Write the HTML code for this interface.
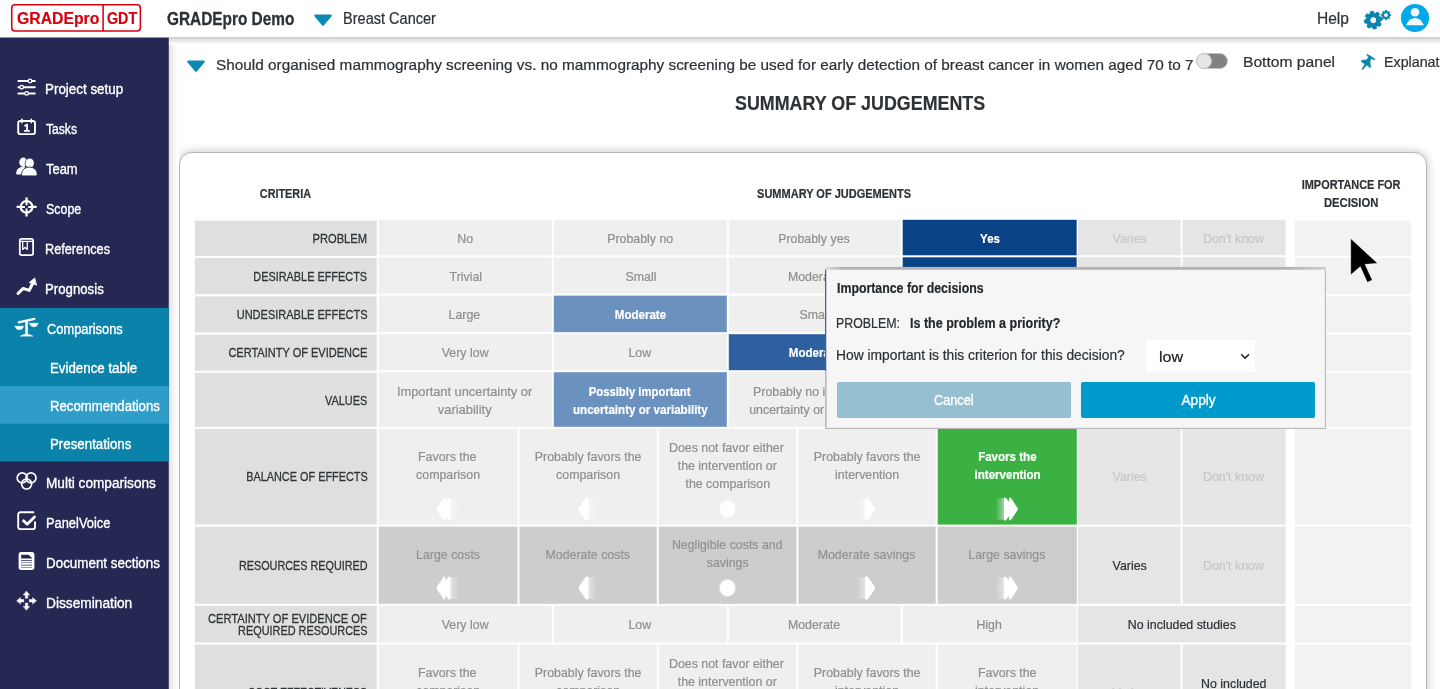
<!DOCTYPE html>
<html>
<head>
<meta charset="utf-8">
<title>GRADEpro GDT</title>
<style>
*{box-sizing:border-box;margin:0;padding:0}
html,body{width:1440px;height:689px;overflow:hidden;background:#fff}
body{font-family:"Liberation Sans",sans-serif;color:#2d3236;position:relative}
#root{position:absolute;left:0;top:0;width:1440px;height:689px;overflow:hidden;will-change:transform}
.t{position:absolute;white-space:nowrap;line-height:20px;height:20px;display:block}
.a{position:absolute}
.c{position:absolute;background:#efefef}
svg{position:absolute;overflow:visible}
</style>
</head>
<body>
<div id="root">
<svg width="170" height="689" style="left:0;top:0" viewBox="0 0 170 689"><rect x="0" y="37.500" width="168.800" height="652" fill="#242852"/><rect x="0" y="307.900" width="168.800" height="153.600" fill="#0a82a9"/><rect x="0" y="386.200" width="168.800" height="37.600" fill="#2e9dc7"/></svg>
<span class="t" style="left:45.44px;top:79px;font-size:14px;color:#fff;transform:scaleX(0.9565);transform-origin:0 50%;-webkit-text-stroke:.35px #fff;">Project setup</span>
<span class="t" style="left:46.40px;top:119px;font-size:14px;color:#fff;transform:scaleX(0.8663);transform-origin:0 50%;-webkit-text-stroke:.35px #fff;">Tasks</span>
<span class="t" style="left:46.40px;top:159px;font-size:14px;color:#fff;transform:scaleX(0.9234);transform-origin:0 50%;-webkit-text-stroke:.35px #fff;">Team</span>
<span class="t" style="left:46.40px;top:199px;font-size:14px;color:#fff;transform:scaleX(0.8870);transform-origin:0 50%;-webkit-text-stroke:.35px #fff;">Scope</span>
<span class="t" style="left:45.49px;top:239px;font-size:14px;color:#fff;transform:scaleX(0.9080);transform-origin:0 50%;-webkit-text-stroke:.35px #fff;">References</span>
<span class="t" style="left:45.46px;top:279px;font-size:14px;color:#fff;transform:scaleX(0.9436);transform-origin:0 50%;-webkit-text-stroke:.35px #fff;">Prognosis</span>
<span class="t" style="left:46.50px;top:319px;font-size:14px;color:#fff;transform:scaleX(0.9191);transform-origin:0 50%;-webkit-text-stroke:.35px #fff;">Comparisons</span>
<span class="t" style="left:49.55px;top:358px;font-size:14px;color:#fff;transform:scaleX(0.9500);transform-origin:0 50%;-webkit-text-stroke:.35px #fff;">Evidence table</span>
<span class="t" style="left:49.56px;top:396px;font-size:14px;color:#fff;transform:scaleX(0.9410);transform-origin:0 50%;-webkit-text-stroke:.35px #fff;">Recommendations</span>
<span class="t" style="left:49.55px;top:434px;font-size:14px;color:#fff;transform:scaleX(0.9503);transform-origin:0 50%;-webkit-text-stroke:.35px #fff;">Presentations</span>
<span class="t" style="left:45.53px;top:473px;font-size:14px;color:#fff;transform:scaleX(0.9739);transform-origin:0 50%;-webkit-text-stroke:.35px #fff;">Multi comparisons</span>
<span class="t" style="left:45.58px;top:513px;font-size:14px;color:#fff;transform:scaleX(0.9182);transform-origin:0 50%;-webkit-text-stroke:.35px #fff;">PanelVoice</span>
<span class="t" style="left:45.54px;top:553px;font-size:14px;color:#fff;transform:scaleX(0.9572);transform-origin:0 50%;-webkit-text-stroke:.35px #fff;">Document sections</span>
<span class="t" style="left:45.52px;top:593px;font-size:14px;color:#fff;transform:scaleX(0.9810);transform-origin:0 50%;-webkit-text-stroke:.35px #fff;">Dissemination</span>

<svg width="40" height="640" style="left:0;top:60px" viewBox="0 60 40 640" fill="none" stroke="#fff" stroke-linecap="round" stroke-linejoin="round">
 <!-- sliders -->
 <g stroke-width="2">
  <path d="M18.400 81H34.800 M18.400 87.200H34.800 M18.400 93.400H34.800"/>
  <circle cx="30.100" cy="81" r="1.800" fill="#242852" stroke-width="1.300"/>
  <circle cx="21.700" cy="87.200" r="1.800" fill="#242852" stroke-width="1.300"/>
  <circle cx="26.600" cy="93.400" r="1.800" fill="#242852" stroke-width="1.300"/>
 </g>
 <!-- calendar -->
 <g stroke-width="1.900">
  <rect x="18.200" y="121" width="16.800" height="13.100" rx="2.200"/>
  <path d="M21.900 119.300v3.200 M31.300 119.300v3.200" stroke-width="1.700"/>
  <path d="M25 125.800l2-1.300v6.200 M24.700 130.900h4.400" stroke-width="1.800"/>
 </g>
 <!-- team -->
 <g fill="#fff" stroke="none">
  <ellipse cx="23.300" cy="162.300" rx="4" ry="4.700"/>
  <path d="M16.200 173.400c0-3.900 2.800-6.400 6.400-6.400 1.500 0 2.800.400 3.800 1.100-2.700 1.400-4.300 3.500-4.700 6.500h-4.300c-.800 0-1.200-.500-1.200-1.200z"/>
  <ellipse cx="29.700" cy="163.200" rx="4.900" ry="5.400" fill="#242852"/>
  <ellipse cx="29.700" cy="163.200" rx="4.200" ry="4.800"/>
  <path d="M21.500 174.600c0-4.600 3.600-7.500 7.900-7.500s7.800 2.900 7.800 7.500c0 .800-.500 1.300-1.300 1.300H22.800c-.800 0-1.300-.500-1.300-1.300z" stroke="#242852" stroke-width=".900"/>
 </g>
 <!-- scope -->
 <g stroke-width="2.300" stroke-linecap="butt">
  <circle cx="26.550" cy="206.900" r="5.800"/>
  <path d="M26.550 197.500v3.600 M26.550 212.700v3.700 M16.600 206.900h4.200 M32.300 206.900h4.300" stroke-linecap="butt"/>
  <path d="M26.550 201.500v3.700 M26.550 208.600v3.700 M21.200 206.900h3.700 M28.200 206.900h3.700" stroke-width="2"/>
 </g>
 <!-- references -->
 <g stroke-width="1.800">
  <rect x="19.800" y="238.900" width="13.300" height="16.200" rx="1.900"/>
  <path d="M20.600 241.400H32.600" stroke-width="1.100"/>
  <path d="M22.700 241.600v7.800l2.300-2 2.300 2v-7.800" stroke-width="1.300"/>
 </g>
 <!-- prognosis -->
 <g>
  <path d="M18 293.500l5.200-5.100 6 2 3.200-6.400" stroke-width="3"/>
  <path d="M34.500 278.200L29.200 282.500L36.300 285.100Z" fill="#fff" stroke-width=".800"/>
 </g>
 <!-- comparisons (scale) -->
 <g>
  <path d="M18.700 322.300L34.400 318.900" stroke-width="2.200"/>
  <path d="M26.550 320.200V334" stroke-width="2.600" stroke-linecap="butt"/>
  <path d="M20.600 336Q26.500 332.300 32.600 336Z" fill="#fff" stroke-width=".600"/>
  <path d="M15.100 326.200H23.600Q22.700 329.700 19.350 329.700Q16 329.700 15.100 326.200Z" fill="#fff" stroke-width=".500"/>
  <path d="M29.500 323.300H38.200Q37.300 326.800 33.850 326.800Q30.400 326.800 29.500 323.300Z" fill="#fff" stroke-width=".500"/>
 </g>
 <!-- multi comparisons -->
 <g stroke-width="1.700">
  <circle cx="22.200" cy="477.900" r="5"/>
  <circle cx="31" cy="477.900" r="5"/>
  <circle cx="26.600" cy="484" r="5"/>
 </g>
 <!-- panelvoice -->
 <g stroke-width="1.900">
  <path d="M33.400 512.300H20.400a2.200 2.200 0 0 0-2.200 2.200v12.400a2.200 2.200 0 0 0 2.200 2.200h12.400a2.200 2.200 0 0 0 2.200-2.200v-4.800"/>
  <path d="M23.500 520.800l3.700 3.500 7.300-7.200" stroke-width="2.800"/>
 </g>
 <!-- document -->
 <g stroke="none">
  <rect x="18.600" y="552.100" width="15.800" height="17.800" rx="2.600" fill="#fff"/>
  <path d="M21.200 554.700H28.400L31.900 557.700V567.400H21.200Z" fill="#242852"/>
  <path d="M21.200 558.500h10.700v1.600H21.200z M21.200 560.800h10.700v1.600H21.200z M21.200 563.100h10.700v1.600H21.200z M21.200 565.400h10.700v1.500H21.200z" fill="#fff"/>
 </g>
 <!-- dissemination -->
 <g fill="#fff" stroke="#fff" stroke-width=".500" stroke-linejoin="round">
  <path d="M26.550 591.300l3.100 3.700h-1.900v3.300h-2.400v-3.300h-1.900z"/>
  <path d="M26.550 610.100l3.100-3.700h-1.900v-3.300h-2.400v3.300h-1.900z"/>
  <path d="M16.800 600.700l3.700-3.100v1.900h3.300v2.400h-3.300v1.900z"/>
  <path d="M36.300 600.700l-3.700-3.100v1.900h-3.300v2.400h3.300v1.900z"/>
 </g>
</svg>

<div class="a" style="left:169px;top:38px;width:10px;height:651px;z-index:3;background:linear-gradient(to right,#e5dddd 0,#ecE8e8 18%,#f5f3f3 45%,#fcfcfc 75%,#fff 100%)"></div>
<svg width="18" height="12" style="left:187px;top:59.500px" viewBox="0 0 18 12"><path d="M1.200 0.600h15.600a1 1 0 0 1 .8 1.600l-7.600 9a1.300 1.300 0 0 1-2 0l-7.600-9a1 1 0 0 1 .8-1.600z" fill="#0b88b3"/></svg>
<span class="t" style="left:216.30px;top:55px;font-size:14.8px;color:#2d3236;transform:scaleX(1.0362);transform-origin:0 50%;-webkit-text-stroke:.22px #2d3236;">Should organised mammography screening vs. no mammography screening be used for early detection of breast cancer in women aged 70 to 7</span>
<div class="a" style="left:1196px;top:53px;width:32px;height:16px;border-radius:8px;background:#818181;border:1px solid #c4c4c4"></div>
<div class="a" style="left:1196px;top:53px;width:16px;height:16px;border-radius:8px;background:#e6e6e6;border:1px solid #c2c2c2"></div>
<span class="t" style="left:1242.86px;top:52px;font-size:15px;color:#2d3236;transform:scaleX(1.0419);transform-origin:0 50%;-webkit-text-stroke:.22px #2d3236;">Bottom panel</span>
<svg width="16" height="18" style="left:1360px;top:53px" viewBox="1360 53 16 18"><path d="M1367 54.100L1374.900 58.800L1374.500 60L1371.300 58.600L1370 61.400L1370.700 67.500L1369 67.100L1366.600 65.100L1362.500 70L1361.900 69.100L1364.800 64.100L1361.100 61.400L1361.900 60.200L1366.800 59.800L1368.600 56.700L1366.800 55.300Z" fill="#0c84ac" stroke="#0c84ac" stroke-width=".500" stroke-linejoin="round"/></svg>
<span class="t" style="left:1383.55px;top:52px;font-size:15px;color:#2d3236;transform:scaleX(0.9501);transform-origin:0 50%;-webkit-text-stroke:.22px #2d3236;">Explanat</span>
<span class="t" style="left:735.00px;top:93px;font-size:21px;font-weight:bold;color:#2d3236;transform:scaleX(0.8509);transform-origin:0 50%;-webkit-text-stroke:.2px #2d3236;">SUMMARY OF JUDGEMENTS</span>
<div class="a" style="left:179px;top:152px;width:1248px;height:620px;border:1px solid #b9b9b9;border-radius:13px;background:#fff;box-shadow:0 0 9px 1px rgba(0,0,0,.21)"></div>
<svg width="1440" height="689" style="left:0;top:0" viewBox="0 0 1440 689"><rect x="194.90" y="220.70" width="181.80" height="35.20" fill="#dfdfdf"/><rect x="378.70" y="219.80" width="173.05" height="35.50" fill="#efefef"/><rect x="553.75" y="219.80" width="173.05" height="35.50" fill="#efefef"/><rect x="728.80" y="219.80" width="171.50" height="35.50" fill="#efefef"/><rect x="902.70" y="219.80" width="173.95" height="35.50" fill="#0a4385"/><rect x="1078.00" y="219.80" width="102.60" height="35.50" fill="#e5e5e5"/><rect x="1182.60" y="219.80" width="103.00" height="35.50" fill="#e5e5e5"/><rect x="1294.70" y="220.70" width="116.30" height="35.20" fill="#f2f2f2"/><rect x="194.90" y="257.90" width="181.80" height="36.30" fill="#dfdfdf"/><rect x="378.70" y="257.30" width="173.05" height="36.30" fill="#efefef"/><rect x="553.75" y="257.30" width="173.05" height="36.30" fill="#efefef"/><rect x="728.80" y="257.30" width="171.50" height="36.30" fill="#efefef"/><rect x="902.70" y="257.30" width="173.95" height="36.30" fill="#0a4385"/><rect x="1078.00" y="257.30" width="102.60" height="36.30" fill="#e5e5e5"/><rect x="1182.60" y="257.30" width="103.00" height="36.30" fill="#e5e5e5"/><rect x="1294.70" y="257.90" width="116.30" height="36.30" fill="#f2f2f2"/><rect x="194.90" y="296.40" width="181.80" height="36.10" fill="#dfdfdf"/><rect x="378.70" y="295.60" width="173.05" height="36.60" fill="#efefef"/><rect x="553.75" y="295.60" width="173.05" height="36.60" fill="#6b91bf"/><rect x="728.80" y="295.60" width="171.50" height="36.60" fill="#efefef"/><rect x="902.70" y="295.60" width="173.95" height="36.60" fill="#efefef"/><rect x="1078.00" y="295.60" width="102.60" height="36.60" fill="#e5e5e5"/><rect x="1182.60" y="295.60" width="103.00" height="36.60" fill="#e5e5e5"/><rect x="1294.70" y="296.40" width="116.30" height="36.10" fill="#f2f2f2"/><rect x="194.90" y="334.70" width="181.80" height="36.00" fill="#dfdfdf"/><rect x="378.70" y="334.20" width="173.05" height="36.00" fill="#efefef"/><rect x="553.75" y="334.20" width="173.05" height="36.00" fill="#efefef"/><rect x="728.80" y="334.20" width="171.50" height="36.00" fill="#2e60a0"/><rect x="902.70" y="334.20" width="173.95" height="36.00" fill="#efefef"/><rect x="1078.00" y="334.20" width="207.60" height="36.00" fill="#e5e5e5"/><rect x="1294.70" y="334.70" width="116.30" height="36.00" fill="#f2f2f2"/><rect x="194.90" y="372.70" width="181.80" height="54.10" fill="#dfdfdf"/><rect x="378.70" y="372.20" width="173.05" height="54.60" fill="#efefef"/><rect x="553.75" y="372.20" width="173.05" height="54.60" fill="#6b91bf"/><rect x="728.80" y="372.20" width="171.50" height="54.60" fill="#efefef"/><rect x="902.70" y="372.20" width="173.95" height="54.60" fill="#efefef"/><rect x="1078.00" y="372.20" width="102.60" height="54.60" fill="#e5e5e5"/><rect x="1182.60" y="372.20" width="103.00" height="54.60" fill="#e5e5e5"/><rect x="1294.70" y="372.70" width="116.30" height="54.10" fill="#f2f2f2"/><rect x="194.90" y="428.80" width="181.80" height="95.80" fill="#dfdfdf"/><rect x="378.70" y="428.80" width="138.80" height="95.80" fill="#efefef"/><rect x="519.50" y="428.80" width="137.30" height="95.80" fill="#efefef"/><rect x="658.80" y="428.80" width="137.60" height="95.80" fill="#efefef"/><rect x="798.40" y="428.80" width="137.30" height="95.80" fill="#efefef"/><rect x="937.70" y="428.80" width="139.10" height="95.80" fill="#3ab142"/><rect x="1078.00" y="428.80" width="102.60" height="95.80" fill="#e5e5e5"/><rect x="1182.60" y="428.80" width="103.00" height="95.80" fill="#e5e5e5"/><rect x="1294.70" y="428.80" width="116.30" height="95.80" fill="#f2f2f2"/><rect x="194.90" y="526.60" width="181.80" height="77.20" fill="#dfdfdf"/><rect x="378.70" y="526.60" width="138.80" height="77.20" fill="#cdcdcd"/><rect x="519.50" y="526.60" width="137.30" height="77.20" fill="#cdcdcd"/><rect x="658.80" y="526.60" width="137.60" height="77.20" fill="#cdcdcd"/><rect x="798.40" y="526.60" width="137.30" height="77.20" fill="#cdcdcd"/><rect x="937.70" y="526.60" width="139.10" height="77.20" fill="#cdcdcd"/><rect x="1078.00" y="526.60" width="102.60" height="77.20" fill="#e5e5e5"/><rect x="1182.60" y="526.60" width="103.00" height="77.20" fill="#e5e5e5"/><rect x="1294.70" y="526.60" width="116.30" height="77.20" fill="#f2f2f2"/><rect x="194.90" y="605.80" width="181.80" height="36.70" fill="#dfdfdf"/><rect x="378.70" y="605.80" width="173.05" height="36.70" fill="#efefef"/><rect x="553.75" y="605.80" width="173.05" height="36.70" fill="#efefef"/><rect x="728.80" y="605.80" width="171.50" height="36.70" fill="#efefef"/><rect x="902.70" y="605.80" width="173.95" height="36.70" fill="#efefef"/><rect x="1078.00" y="605.80" width="207.60" height="36.70" fill="#e5e5e5"/><rect x="1294.70" y="605.80" width="116.30" height="36.70" fill="#f2f2f2"/><rect x="194.90" y="644.50" width="181.80" height="96.50" fill="#dfdfdf"/><rect x="378.70" y="644.50" width="138.80" height="96.50" fill="#efefef"/><rect x="519.50" y="644.50" width="137.30" height="96.50" fill="#efefef"/><rect x="658.80" y="644.50" width="137.60" height="96.50" fill="#efefef"/><rect x="798.40" y="644.50" width="137.30" height="96.50" fill="#efefef"/><rect x="937.70" y="644.50" width="139.10" height="96.50" fill="#efefef"/><rect x="1078.00" y="644.50" width="102.60" height="96.50" fill="#e5e5e5"/><rect x="1182.60" y="644.50" width="103.00" height="96.50" fill="#e5e5e5"/><rect x="1294.70" y="644.50" width="116.30" height="96.50" fill="#f2f2f2"/></svg>
<span class="t" style="left:254.09px;top:184px;font-size:13.3px;font-weight:bold;color:#2d3236;transform:scaleX(0.8150);transform-origin:50% 50%;-webkit-text-stroke:.2px #2d3236;">CRITERIA</span>
<span class="t" style="left:740.74px;top:184px;font-size:13.3px;font-weight:bold;color:#2d3236;transform:scaleX(0.8272);transform-origin:50% 50%;-webkit-text-stroke:.2px #2d3236;">SUMMARY OF JUDGEMENTS</span>
<span class="t" style="left:1290.76px;top:175px;font-size:13.3px;font-weight:bold;color:#2d3236;transform:scaleX(0.8220);transform-origin:50% 50%;-webkit-text-stroke:.2px #2d3236;">IMPORTANCE FOR</span>
<span class="t" style="left:1319.12px;top:193px;font-size:13.3px;font-weight:bold;color:#2d3236;transform:scaleX(0.8481);transform-origin:50% 50%;-webkit-text-stroke:.2px #2d3236;">DECISION</span>
<span class="t" style="left:301.49px;top:229px;font-size:13.5px;color:#2f3437;transform:scaleX(0.8260);transform-origin:100% 50%;-webkit-text-stroke:.3px #2f3437;">PROBLEM</span>
<span class="t" style="left:456.62px;top:229px;font-size:12.8px;color:#8f8f8f;transform:scaleX(0.9670);transform-origin:50% 50%;-webkit-text-stroke:.22px #8f8f8f;">No</span>
<span class="t" style="left:605.70px;top:229px;font-size:12.8px;color:#8f8f8f;transform:scaleX(0.9670);transform-origin:50% 50%;-webkit-text-stroke:.22px #8f8f8f;">Probably no</span>
<span class="t" style="left:777.27px;top:229px;font-size:12.8px;color:#8f8f8f;transform:scaleX(0.9670);transform-origin:50% 50%;-webkit-text-stroke:.22px #8f8f8f;">Probably yes</span>
<span class="t" style="left:978.70px;top:229px;font-size:12.8px;font-weight:bold;color:#fff;transform:scaleX(0.9030);transform-origin:50% 50%;-webkit-text-stroke:.2px #fff;">Yes</span>
<span class="t" style="left:1111.83px;top:229px;font-size:12.8px;color:#c7c7c7;transform:scaleX(0.9670);transform-origin:50% 50%;-webkit-text-stroke:.22px #c7c7c7;">Varies</span><span class="t" style="left:1201.80px;top:229px;font-size:12.8px;color:#c7c7c7;transform:scaleX(0.9670);transform-origin:50% 50%;-webkit-text-stroke:.22px #c7c7c7;">Don&#x27;t know</span>
<span class="t" style="left:226.27px;top:267px;font-size:13.5px;color:#2f3437;transform:scaleX(0.8063);transform-origin:100% 50%;-webkit-text-stroke:.3px #2f3437;">DESIRABLE EFFECTS</span>
<span class="t" style="left:448.81px;top:267px;font-size:12.8px;color:#8f8f8f;transform:scaleX(0.9670);transform-origin:50% 50%;-webkit-text-stroke:.22px #8f8f8f;">Trivial</span>
<span class="t" style="left:624.68px;top:267px;font-size:12.8px;color:#8f8f8f;transform:scaleX(0.9670);transform-origin:50% 50%;-webkit-text-stroke:.22px #8f8f8f;">Small</span>
<span class="t" style="left:787.09px;top:267px;font-size:12.8px;color:#8f8f8f;transform:scaleX(0.9670);transform-origin:50% 50%;-webkit-text-stroke:.22px #8f8f8f;">Moderate</span>
<span class="t" style="left:972.30px;top:267px;font-size:12.8px;font-weight:bold;color:#fff;transform:scaleX(0.9030);transform-origin:50% 50%;-webkit-text-stroke:.2px #fff;">Large</span>
<span class="t" style="left:1111.83px;top:267px;font-size:12.8px;color:#c7c7c7;transform:scaleX(0.9670);transform-origin:50% 50%;-webkit-text-stroke:.22px #c7c7c7;">Varies</span><span class="t" style="left:1201.80px;top:267px;font-size:12.8px;color:#c7c7c7;transform:scaleX(0.9670);transform-origin:50% 50%;-webkit-text-stroke:.22px #c7c7c7;">Don&#x27;t know</span>
<span class="t" style="left:206.77px;top:305px;font-size:13.5px;color:#2f3437;transform:scaleX(0.8149);transform-origin:100% 50%;-webkit-text-stroke:.3px #2f3437;">UNDESIRABLE EFFECTS</span>
<span class="t" style="left:448.43px;top:305px;font-size:12.8px;color:#8f8f8f;transform:scaleX(0.9670);transform-origin:50% 50%;-webkit-text-stroke:.22px #8f8f8f;">Large</span>
<span class="t" style="left:611.88px;top:305px;font-size:12.8px;font-weight:bold;color:#fff;transform:scaleX(0.9030);transform-origin:50% 50%;-webkit-text-stroke:.2px #fff;">Moderate</span>
<span class="t" style="left:798.96px;top:305px;font-size:12.8px;color:#8f8f8f;transform:scaleX(0.9670);transform-origin:50% 50%;-webkit-text-stroke:.22px #8f8f8f;">Small</span>
<span class="t" style="left:973.26px;top:305px;font-size:12.8px;color:#8f8f8f;transform:scaleX(0.9670);transform-origin:50% 50%;-webkit-text-stroke:.22px #8f8f8f;">Trivial</span>
<span class="t" style="left:196.78px;top:343px;font-size:13.5px;color:#2f3437;transform:scaleX(0.8157);transform-origin:100% 50%;-webkit-text-stroke:.3px #2f3437;">CERTAINTY OF EVIDENCE</span>
<span class="t" style="left:440.68px;top:343px;font-size:12.8px;color:#8f8f8f;transform:scaleX(0.9670);transform-origin:50% 50%;-webkit-text-stroke:.22px #8f8f8f;">Very low</span>
<span class="t" style="left:627.69px;top:343px;font-size:12.8px;color:#8f8f8f;transform:scaleX(0.9670);transform-origin:50% 50%;-webkit-text-stroke:.22px #8f8f8f;">Low</span>
<span class="t" style="left:786.16px;top:343px;font-size:12.8px;font-weight:bold;color:#fff;transform:scaleX(0.9030);transform-origin:50% 50%;-webkit-text-stroke:.2px #fff;">Moderate</span>
<span class="t" style="left:315.03px;top:391px;font-size:13.5px;color:#2f3437;transform:scaleX(0.8093);transform-origin:100% 50%;-webkit-text-stroke:.3px #2f3437;">VALUES</span>
<span class="t" style="left:396.78px;top:382px;font-size:12.8px;color:#8f8f8f;transform:scaleX(1.0009);transform-origin:50% 50%;-webkit-text-stroke:.22px #8f8f8f;">Important uncertainty or</span><span class="t" style="left:438.25px;top:400px;font-size:12.8px;color:#8f8f8f;transform:scaleX(1.0104);transform-origin:50% 50%;-webkit-text-stroke:.22px #8f8f8f;">variability</span>
<span class="t" style="left:582.35px;top:382px;font-size:12.8px;font-weight:bold;color:#fff;transform:scaleX(0.8842);transform-origin:50% 50%;-webkit-text-stroke:.2px #fff;">Possibly important</span><span class="t" style="left:565.56px;top:400px;font-size:12.8px;font-weight:bold;color:#fff;transform:scaleX(0.9063);transform-origin:50% 50%;-webkit-text-stroke:.2px #fff;">uncertainty or variability</span>
<span class="t" style="left:751.25px;top:382px;font-size:12.8px;color:#8f8f8f;transform:scaleX(0.9670);transform-origin:50% 50%;-webkit-text-stroke:.22px #8f8f8f;">Probably no important</span><span class="t" style="left:747.05px;top:400px;font-size:12.8px;color:#8f8f8f;transform:scaleX(0.9670);transform-origin:50% 50%;-webkit-text-stroke:.22px #8f8f8f;">uncertainty or variability</span>
<span class="t" style="left:216.53px;top:467px;font-size:13.5px;color:#2f3437;transform:scaleX(0.8066);transform-origin:100% 50%;-webkit-text-stroke:.3px #2f3437;">BALANCE OF EFFECTS</span>
<span class="t" style="left:417.45px;top:447px;font-size:12.8px;color:#8f8f8f;transform:scaleX(0.9670);transform-origin:50% 50%;-webkit-text-stroke:.22px #8f8f8f;">Favors the</span><span class="t" style="left:415.08px;top:465px;font-size:12.8px;color:#8f8f8f;transform:scaleX(0.9670);transform-origin:50% 50%;-webkit-text-stroke:.22px #8f8f8f;">comparison</span>
<svg width="22.4" height="24" style="left:436.40px;top:496.5px" viewBox="0 0 22.4 24"><g transform=""><path d="M1.100 13.600Q-.100 12 1.100 10.400L7.200 1.300Q8.300 -.200 9.300 1.300L9.800 4.800L12.100 1.100Q13 0 13.900 .600L14.600 1.300V22.700L13.900 23.400Q13 24 12.100 22.900L9.800 19.200L9.300 22.700Q8.300 24.200 7.200 22.700Z" fill="#fff"/><rect x="14.600" y="1.300" width="2.200" height="21.400" fill="#fff" fill-opacity=".42"/><rect x="16.800" y="1.300" width="2" height="21.400" fill="#fff" fill-opacity=".27"/><rect x="18.800" y="1.300" width="1.800" height="21.400" fill="#fff" fill-opacity=".2"/><rect x="20.600" y="1.300" width="1.800" height="21.400" fill="#fff" fill-opacity=".07"/></g></svg>
<span class="t" style="left:532.60px;top:447px;font-size:12.8px;color:#8f8f8f;transform:scaleX(0.9670);transform-origin:50% 50%;-webkit-text-stroke:.22px #8f8f8f;">Probably favors the</span><span class="t" style="left:555.13px;top:465px;font-size:12.8px;color:#8f8f8f;transform:scaleX(0.9670);transform-origin:50% 50%;-webkit-text-stroke:.22px #8f8f8f;">comparison</span>
<svg width="18.7" height="24" style="left:578.30px;top:496.5px" viewBox="0 0 18.7 24"><g transform=""><path d="M1.100 13.600Q-.100 12 1.100 10.400L7.600 1.300Q8.700 -.200 9.700 .600L10.600 1.300V22.700L9.700 23.400Q8.700 24.200 7.600 22.700Z" fill="#fff"/><rect x="10.600" y="1.300" width="2.200" height="21.400" fill="#fff" fill-opacity=".42"/><rect x="12.800" y="1.300" width="2" height="21.400" fill="#fff" fill-opacity=".27"/><rect x="14.800" y="1.300" width="2" height="21.400" fill="#fff" fill-opacity=".2"/><rect x="16.800" y="1.300" width="1.900" height="21.400" fill="#fff" fill-opacity=".07"/></g></svg>
<span class="t" style="left:667.36px;top:438px;font-size:12.8px;color:#8f8f8f;transform:scaleX(0.9670);transform-origin:50% 50%;-webkit-text-stroke:.22px #8f8f8f;">Does not favor either</span><span class="t" style="left:676.02px;top:456px;font-size:12.8px;color:#8f8f8f;transform:scaleX(0.9670);transform-origin:50% 50%;-webkit-text-stroke:.22px #8f8f8f;">the intervention or</span><span class="t" style="left:683.91px;top:474px;font-size:12.8px;color:#8f8f8f;transform:scaleX(0.9670);transform-origin:50% 50%;-webkit-text-stroke:.22px #8f8f8f;">the comparison</span>
<div class="a" style="left:719.5999999999999px;top:500.7px;width:15px;height:16px;border-radius:50%;background:#fff;box-shadow:0 0 1.500px .500px rgba(255,255,255,.8)"></div>
<span class="t" style="left:811.50px;top:447px;font-size:12.8px;color:#8f8f8f;transform:scaleX(0.9670);transform-origin:50% 50%;-webkit-text-stroke:.22px #8f8f8f;">Probably favors the</span><span class="t" style="left:834.03px;top:465px;font-size:12.8px;color:#8f8f8f;transform:scaleX(0.9670);transform-origin:50% 50%;-webkit-text-stroke:.22px #8f8f8f;">intervention</span>
<svg width="18.7" height="24" style="left:857.20px;top:496.5px" viewBox="0 0 18.7 24"><g transform="translate(18.7 0) scale(-1 1)"><path d="M1.100 13.600Q-.100 12 1.100 10.400L7.600 1.300Q8.700 -.200 9.700 .600L10.600 1.300V22.700L9.700 23.400Q8.700 24.200 7.600 22.700Z" fill="#fff"/><rect x="10.600" y="1.300" width="2.200" height="21.400" fill="#fff" fill-opacity=".42"/><rect x="12.800" y="1.300" width="2" height="21.400" fill="#fff" fill-opacity=".27"/><rect x="14.800" y="1.300" width="2" height="21.400" fill="#fff" fill-opacity=".2"/><rect x="16.800" y="1.300" width="1.900" height="21.400" fill="#fff" fill-opacity=".07"/></g></svg>
<span class="t" style="left:974.95px;top:447px;font-size:12.8px;font-weight:bold;color:#fff;transform:scaleX(0.9030);transform-origin:50% 50%;-webkit-text-stroke:.2px #fff;">Favors the</span><span class="t" style="left:970.55px;top:465px;font-size:12.8px;font-weight:bold;color:#fff;transform:scaleX(0.9030);transform-origin:50% 50%;-webkit-text-stroke:.2px #fff;">intervention</span>
<svg width="22.4" height="24" style="left:995.55px;top:496.5px" viewBox="0 0 22.4 24"><g transform="translate(22.4 0) scale(-1 1)"><path d="M1.100 13.600Q-.100 12 1.100 10.400L7.200 1.300Q8.300 -.200 9.300 1.300L9.800 4.800L12.100 1.100Q13 0 13.900 .600L14.600 1.300V22.700L13.900 23.400Q13 24 12.100 22.900L9.800 19.200L9.300 22.700Q8.300 24.200 7.200 22.700Z" fill="#fff"/><rect x="14.600" y="1.300" width="2.200" height="21.400" fill="#fff" fill-opacity=".42"/><rect x="16.800" y="1.300" width="2" height="21.400" fill="#fff" fill-opacity=".27"/><rect x="18.800" y="1.300" width="1.800" height="21.400" fill="#fff" fill-opacity=".2"/><rect x="20.600" y="1.300" width="1.800" height="21.400" fill="#fff" fill-opacity=".07"/></g></svg>
<span class="t" style="left:1111.83px;top:467px;font-size:12.8px;color:#c7c7c7;transform:scaleX(0.9670);transform-origin:50% 50%;-webkit-text-stroke:.22px #c7c7c7;">Varies</span><span class="t" style="left:1201.80px;top:467px;font-size:12.8px;color:#c7c7c7;transform:scaleX(0.9670);transform-origin:50% 50%;-webkit-text-stroke:.22px #c7c7c7;">Don&#x27;t know</span>
<span class="t" style="left:206.58px;top:556px;font-size:13.5px;color:#2f3437;transform:scaleX(0.8011);transform-origin:100% 50%;-webkit-text-stroke:.3px #2f3437;">RESOURCES REQUIRED</span>
<span class="t" style="left:414.73px;top:545px;font-size:12.8px;color:#929292;transform:scaleX(0.9670);transform-origin:50% 50%;-webkit-text-stroke:.22px #929292;">Large costs</span>
<svg width="22.4" height="24" style="left:436.40px;top:575.5px" viewBox="0 0 22.4 24"><g transform=""><path d="M1.100 13.600Q-.100 12 1.100 10.400L7.200 1.300Q8.300 -.200 9.300 1.300L9.800 4.800L12.100 1.100Q13 0 13.900 .600L14.600 1.300V22.700L13.900 23.400Q13 24 12.100 22.900L9.800 19.200L9.300 22.700Q8.300 24.200 7.200 22.700Z" fill="#fff"/><rect x="14.600" y="1.300" width="2.200" height="21.400" fill="#fff" fill-opacity=".42"/><rect x="16.800" y="1.300" width="2" height="21.400" fill="#fff" fill-opacity=".27"/><rect x="18.800" y="1.300" width="1.800" height="21.400" fill="#fff" fill-opacity=".2"/><rect x="20.600" y="1.300" width="1.800" height="21.400" fill="#fff" fill-opacity=".07"/></g></svg>
<span class="t" style="left:544.12px;top:545px;font-size:12.8px;color:#929292;transform:scaleX(0.9670);transform-origin:50% 50%;-webkit-text-stroke:.22px #929292;">Moderate costs</span>
<svg width="18.7" height="24" style="left:578.30px;top:575.5px" viewBox="0 0 18.7 24"><g transform=""><path d="M1.100 13.600Q-.100 12 1.100 10.400L7.600 1.300Q8.700 -.200 9.700 .600L10.600 1.300V22.700L9.700 23.400Q8.700 24.200 7.600 22.700Z" fill="#fff"/><rect x="10.600" y="1.300" width="2.200" height="21.400" fill="#fff" fill-opacity=".42"/><rect x="12.800" y="1.300" width="2" height="21.400" fill="#fff" fill-opacity=".27"/><rect x="14.800" y="1.300" width="2" height="21.400" fill="#fff" fill-opacity=".2"/><rect x="16.800" y="1.300" width="1.900" height="21.400" fill="#fff" fill-opacity=".07"/></g></svg>
<span class="t" style="left:669.91px;top:535px;font-size:12.8px;color:#929292;transform:scaleX(0.9670);transform-origin:50% 50%;-webkit-text-stroke:.22px #929292;">Negligible costs and</span><span class="t" style="left:706.10px;top:553px;font-size:12.8px;color:#929292;transform:scaleX(0.9670);transform-origin:50% 50%;-webkit-text-stroke:.22px #929292;">savings</span>
<div class="a" style="left:719.5999999999999px;top:579.7px;width:15px;height:16px;border-radius:50%;background:#fff;box-shadow:0 0 1.500px .500px rgba(255,255,255,.8)"></div>
<span class="t" style="left:816.26px;top:545px;font-size:12.8px;color:#929292;transform:scaleX(0.9670);transform-origin:50% 50%;-webkit-text-stroke:.22px #929292;">Moderate savings</span>
<svg width="18.7" height="24" style="left:857.20px;top:575.5px" viewBox="0 0 18.7 24"><g transform="translate(18.7 0) scale(-1 1)"><path d="M1.100 13.600Q-.100 12 1.100 10.400L7.600 1.300Q8.700 -.200 9.700 .600L10.600 1.300V22.700L9.700 23.400Q8.700 24.200 7.600 22.700Z" fill="#fff"/><rect x="10.600" y="1.300" width="2.200" height="21.400" fill="#fff" fill-opacity=".42"/><rect x="12.800" y="1.300" width="2" height="21.400" fill="#fff" fill-opacity=".27"/><rect x="14.800" y="1.300" width="2" height="21.400" fill="#fff" fill-opacity=".2"/><rect x="16.800" y="1.300" width="1.900" height="21.400" fill="#fff" fill-opacity=".07"/></g></svg>
<span class="t" style="left:967.12px;top:545px;font-size:12.8px;color:#929292;transform:scaleX(0.9670);transform-origin:50% 50%;-webkit-text-stroke:.22px #929292;">Large savings</span>
<svg width="22.4" height="24" style="left:995.55px;top:575.5px" viewBox="0 0 22.4 24"><g transform="translate(22.4 0) scale(-1 1)"><path d="M1.100 13.600Q-.100 12 1.100 10.400L7.200 1.300Q8.300 -.200 9.300 1.300L9.800 4.800L12.100 1.100Q13 0 13.900 .600L14.600 1.300V22.700L13.900 23.400Q13 24 12.100 22.900L9.800 19.200L9.300 22.700Q8.300 24.200 7.200 22.700Z" fill="#fff"/><rect x="14.600" y="1.300" width="2.200" height="21.400" fill="#fff" fill-opacity=".42"/><rect x="16.800" y="1.300" width="2" height="21.400" fill="#fff" fill-opacity=".27"/><rect x="18.800" y="1.300" width="1.800" height="21.400" fill="#fff" fill-opacity=".2"/><rect x="20.600" y="1.300" width="1.800" height="21.400" fill="#fff" fill-opacity=".07"/></g></svg>
<span class="t" style="left:1111.83px;top:556px;font-size:12.8px;color:#2d3236;transform:scaleX(0.9670);transform-origin:50% 50%;-webkit-text-stroke:.22px #2d3236;">Varies</span><span class="t" style="left:1201.80px;top:556px;font-size:12.8px;color:#c7c7c7;transform:scaleX(0.9670);transform-origin:50% 50%;-webkit-text-stroke:.22px #c7c7c7;">Don&#x27;t know</span>
<span class="t" style="left:174.48px;top:609px;font-size:13.5px;color:#2f3437;transform:scaleX(0.8238);transform-origin:100% 50%;-webkit-text-stroke:.3px #2f3437;">CERTAINTY OF EVIDENCE OF</span><span class="t" style="left:206.78px;top:621px;font-size:13.5px;color:#2f3437;transform:scaleX(0.8062);transform-origin:100% 50%;-webkit-text-stroke:.3px #2f3437;">REQUIRED RESOURCES</span>
<span class="t" style="left:440.68px;top:615px;font-size:12.8px;color:#8f8f8f;transform:scaleX(0.9670);transform-origin:50% 50%;-webkit-text-stroke:.22px #8f8f8f;">Very low</span>
<span class="t" style="left:627.69px;top:615px;font-size:12.8px;color:#8f8f8f;transform:scaleX(0.9670);transform-origin:50% 50%;-webkit-text-stroke:.22px #8f8f8f;">Low</span>
<span class="t" style="left:787.09px;top:615px;font-size:12.8px;color:#8f8f8f;transform:scaleX(0.9670);transform-origin:50% 50%;-webkit-text-stroke:.22px #8f8f8f;">Moderate</span>
<span class="t" style="left:976.09px;top:615px;font-size:12.8px;color:#8f8f8f;transform:scaleX(0.9670);transform-origin:50% 50%;-webkit-text-stroke:.22px #8f8f8f;">High</span>
<span class="t" style="left:1125.67px;top:615px;font-size:12.8px;color:#2d3236;transform:scaleX(0.9670);transform-origin:50% 50%;-webkit-text-stroke:.22px #2d3236;">No included studies</span>
<span class="t" style="left:215.03px;top:683px;font-size:13.5px;color:#2f3437;transform:scaleX(0.7848);transform-origin:100% 50%;-webkit-text-stroke:.3px #2f3437;">COST EFFECTIVENESS</span>
<span class="t" style="left:417.45px;top:663px;font-size:12.8px;color:#8f8f8f;transform:scaleX(0.9670);transform-origin:50% 50%;-webkit-text-stroke:.22px #8f8f8f;">Favors the</span><span class="t" style="left:415.08px;top:681px;font-size:12.8px;color:#8f8f8f;transform:scaleX(0.9670);transform-origin:50% 50%;-webkit-text-stroke:.22px #8f8f8f;">comparison</span>
<span class="t" style="left:532.60px;top:663px;font-size:12.8px;color:#8f8f8f;transform:scaleX(0.9670);transform-origin:50% 50%;-webkit-text-stroke:.22px #8f8f8f;">Probably favors the</span><span class="t" style="left:555.13px;top:681px;font-size:12.8px;color:#8f8f8f;transform:scaleX(0.9670);transform-origin:50% 50%;-webkit-text-stroke:.22px #8f8f8f;">comparison</span>
<span class="t" style="left:667.36px;top:654px;font-size:12.8px;color:#8f8f8f;transform:scaleX(0.9670);transform-origin:50% 50%;-webkit-text-stroke:.22px #8f8f8f;">Does not favor either</span><span class="t" style="left:676.02px;top:672px;font-size:12.8px;color:#8f8f8f;transform:scaleX(0.9670);transform-origin:50% 50%;-webkit-text-stroke:.22px #8f8f8f;">the intervention or</span><span class="t" style="left:683.91px;top:690px;font-size:12.8px;color:#8f8f8f;transform:scaleX(0.9670);transform-origin:50% 50%;-webkit-text-stroke:.22px #8f8f8f;">the comparison</span>
<span class="t" style="left:811.50px;top:663px;font-size:12.8px;color:#8f8f8f;transform:scaleX(0.9670);transform-origin:50% 50%;-webkit-text-stroke:.22px #8f8f8f;">Probably favors the</span><span class="t" style="left:834.03px;top:681px;font-size:12.8px;color:#8f8f8f;transform:scaleX(0.9670);transform-origin:50% 50%;-webkit-text-stroke:.22px #8f8f8f;">intervention</span>
<span class="t" style="left:976.60px;top:663px;font-size:12.8px;color:#8f8f8f;transform:scaleX(0.9670);transform-origin:50% 50%;-webkit-text-stroke:.22px #8f8f8f;">Favors the</span><span class="t" style="left:974.23px;top:681px;font-size:12.8px;color:#8f8f8f;transform:scaleX(0.9670);transform-origin:50% 50%;-webkit-text-stroke:.22px #8f8f8f;">intervention</span>
<span class="t" style="left:1111.83px;top:683px;font-size:12.8px;color:#c7c7c7;transform:scaleX(0.9670);transform-origin:50% 50%;-webkit-text-stroke:.22px #c7c7c7;">Varies</span>
<span class="t" style="left:1199.88px;top:674px;font-size:12.8px;color:#2d3236;transform:scaleX(0.9670);transform-origin:50% 50%;-webkit-text-stroke:.22px #2d3236;">No included</span><span class="t" style="left:1214.02px;top:692px;font-size:12.8px;color:#2d3236;transform:scaleX(0.9670);transform-origin:50% 50%;-webkit-text-stroke:.22px #2d3236;">studies</span>
<svg width="520" height="180" style="left:820px;top:260px" viewBox="820 260 520 180"><defs><linearGradient id="pg" x1="0" x2="1" y1="0" y2="0"><stop offset="0" stop-color="#dedede"/><stop offset=".035" stop-color="#b3b3b3"/><stop offset=".93" stop-color="#b3b3b3"/><stop offset="1" stop-color="#d2d2d2"/></linearGradient></defs><rect x="825.200" y="267" width="500.700" height="161.800" fill="#f6f6f6"/><rect x="825.200" y="266.900" width="500.700" height="2.850" fill="url(#pg)"/><rect x="825.100" y="269.700" width="1.150" height="101.500" fill="#2a5595"/><rect x="825.200" y="371.200" width="1.400" height="57.600" fill="#b2b2b2"/><rect x="1324.800" y="269.700" width="1.100" height="159.100" fill="#bcbcbc"/><rect x="825.200" y="427.850" width="500.700" height="1.050" fill="#b4b4b4"/></svg>
<span class="t" style="left:837.30px;top:278px;font-size:14px;font-weight:bold;color:#25292c;transform:scaleX(0.8806);transform-origin:0 50%;-webkit-text-stroke:.2px #25292c;">Importance for decisions</span>
<span class="t" style="left:836.42px;top:313px;font-size:14px;color:#2d3236;transform:scaleX(0.8842);transform-origin:0 50%;-webkit-text-stroke:.22px #2d3236;">PROBLEM:</span>
<span class="t" style="left:909.50px;top:313px;font-size:14px;font-weight:bold;color:#25292c;transform:scaleX(0.8945);transform-origin:0 50%;-webkit-text-stroke:.2px #25292c;">Is the problem a priority?</span>
<span class="t" style="left:836.31px;top:345px;font-size:14px;color:#2d3236;transform:scaleX(0.9871);transform-origin:0 50%;-webkit-text-stroke:.22px #2d3236;">How important is this criterion for this decision?</span>
<div class="a" style="left:1146px;top:340px;width:109px;height:32px;background:#fff"></div>
<span class="t" style="left:1158.57px;top:347px;font-size:15.5px;color:#1d1d1d;transform:scaleX(1.0319);transform-origin:0 50%;-webkit-text-stroke:.22px #1d1d1d;">low</span>
<svg width="10" height="7" style="left:1240px;top:353px" viewBox="0 0 10 7"><path d="M1.200 1.200l3.900 3.900 3.900-3.900" fill="none" stroke="#222" stroke-width="1.500"/></svg>
<div class="a" style="left:837px;top:382px;width:234px;height:36px;background:#96c0cf;border-radius:2px"></div>
<span class="t" style="left:932.26px;top:390px;font-size:14px;color:#fff;transform:scaleX(0.9087);transform-origin:50% 50%;-webkit-text-stroke:.35px #fff;">Cancel</span>
<div class="a" style="left:1081px;top:382px;width:234px;height:36px;background:#0099cc;border-radius:2px"></div>
<span class="t" style="left:1180.69px;top:390px;font-size:14px;color:#fff;transform:scaleX(0.9737);transform-origin:50% 50%;-webkit-text-stroke:.35px #fff;">Apply</span>
<svg width="32" height="48" style="left:1348px;top:236px;z-index:40" viewBox="1348 236 32 48"><path d="M1350.800 238.700L1350.800 274.800L1360.300 266.400L1367.400 282.300L1372.200 280.100L1364.900 264.300L1377.400 263.300Z" fill="#000" stroke="#fff" stroke-width=".300" stroke-linejoin="round"/></svg>
<div class="a" style="left:0;top:0;width:1440px;height:37px;background:#fff;z-index:30"></div>
<div class="a" style="left:169px;top:37px;width:1271px;height:8px;z-index:4;background:linear-gradient(to bottom,#c9c9c9 0,#d6d6d6 14%,#e2e2e2 35%,#f0f0f0 62%,#fafafa 85%,#fff 100%)"></div>
<div class="a" style="z-index:31;left:0;top:0">
<svg width="150" height="36" style="left:0;top:0" viewBox="0 0 150 36"><rect x="11.750" y="4.800" width="128.600" height="26.100" rx="3.200" fill="none" stroke="#d8000e" stroke-width="1.550"/><path d="M103.100 4.800V30.900" stroke="#d8000e" stroke-width="1.550"/></svg>
<span class="t" style="left:17.40px;top:8px;font-size:17.2px;font-weight:bold;color:#d7000f;transform:scaleX(0.9176);transform-origin:0 50%;-webkit-text-stroke:.2px #d7000f;">GRADEpro</span>
<span class="t" style="left:107.00px;top:8px;font-size:17.2px;font-weight:bold;color:#d7000f;transform:scaleX(0.8319);transform-origin:0 50%;-webkit-text-stroke:.2px #d7000f;">GDT</span>
<span class="t" style="left:167.00px;top:9px;font-size:17.6px;font-weight:bold;color:#2d3236;transform:scaleX(0.8739);transform-origin:0 50%;-webkit-text-stroke:.3px #2d3236;">GRADEpro Demo</span>
<svg width="18" height="12" style="left:314px;top:14px" viewBox="0 0 18 12"><path d="M1.200 0.600h15.600a1 1 0 0 1 .8 1.600l-7.600 9a1.300 1.300 0 0 1-2 0l-7.600-9a1 1 0 0 1 .8-1.600z" fill="#0b88b3"/></svg>
<span class="t" style="left:342.78px;top:9px;font-size:15.8px;color:#2d3236;transform:scaleX(0.9207);transform-origin:0 50%;-webkit-text-stroke:.22px #2d3236;">Breast Cancer</span>
<span class="t" style="left:1316.82px;top:9px;font-size:15.8px;color:#2d3236;transform:scaleX(0.9841);transform-origin:0 50%;-webkit-text-stroke:.22px #2d3236;">Help</span>

<svg width="36" height="28" style="left:1362px;top:4px" viewBox="1362 4 36 28">
 <path d="M1379.63 17.04L1381.75 17.19L1382.25 20.10L1380.30 20.95L1379.96 22.47L1381.35 24.07L1379.65 26.48L1377.67 25.70L1376.36 26.53L1376.21 28.65L1373.30 29.15L1372.45 27.20L1370.93 26.86L1369.33 28.25L1366.92 26.55L1367.70 24.57L1366.87 23.26L1364.75 23.11L1364.25 20.20L1366.20 19.35L1366.54 17.83L1365.15 16.23L1366.85 13.82L1368.83 14.60L1370.14 13.77L1370.29 11.65L1373.20 11.15L1374.05 13.10L1375.57 13.44L1377.17 12.05L1379.58 13.75L1378.80 15.73Z" fill="#0c85ae" stroke="#0c85ae" stroke-width=".900" stroke-linejoin="round"/>
 <circle cx="1373.250" cy="20.150" r="2.800" fill="#fff"/>
 <path d="M1389.55 14.07L1390.73 14.27L1390.73 15.93L1389.55 16.13L1389.24 16.88L1389.93 17.86L1388.76 19.03L1387.78 18.34L1387.03 18.65L1386.83 19.83L1385.17 19.83L1384.97 18.65L1384.22 18.34L1383.24 19.03L1382.07 17.86L1382.76 16.88L1382.45 16.13L1381.27 15.93L1381.27 14.27L1382.45 14.07L1382.76 13.32L1382.07 12.34L1383.24 11.17L1384.22 11.86L1384.97 11.55L1385.17 10.37L1386.83 10.37L1387.03 11.55L1387.78 11.86L1388.76 11.17L1389.93 12.34L1389.24 13.32Z" fill="#0c85ae" stroke="#0c85ae" stroke-width=".500" stroke-linejoin="round"/>
 <circle cx="1386" cy="15.100" r="1.950" fill="#fff"/>
</svg>
<svg width="30" height="30" style="left:1400px;top:3px" viewBox="1400 3 30 30">
 <circle cx="1415" cy="18" r="14.100" fill="#02a9ea"/>
 <circle cx="1415" cy="12.250" r="4.300" fill="#f7f7fe"/>
 <path d="M1406 25.250Q1409.300 18 1415 18Q1420.700 18 1424 25.250Z" fill="#f7f7fe"/>
</svg>

</div>
</div>
</body>
</html>
